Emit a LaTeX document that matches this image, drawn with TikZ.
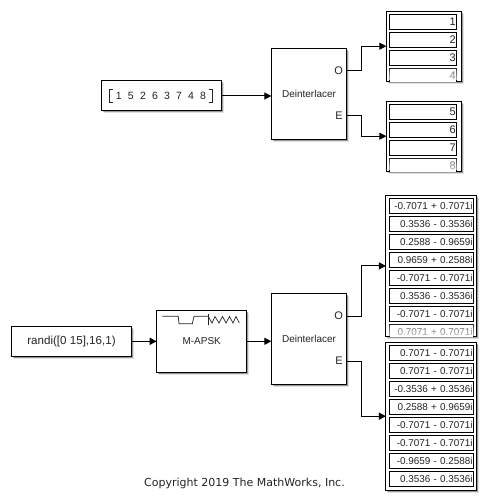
\documentclass[tikz,border=0pt]{standalone}
\usepackage{fontspec}
\setmainfont{Liberation Sans}
\newfontfamily\copyfont{DejaVu Sans}
\usetikzlibrary{arrows.meta, shadows}
\definecolor{textGray}{RGB}{35, 35, 35}

\begin{document}
\begin{tikzpicture}[x=1pt, y=-1pt,
    block/.style={draw=black, fill=white, line width=1pt, outer sep=0pt, inner sep=0pt, text=textGray,
      font=\fontsize{10}{12}\selectfont,
      drop shadow={shadow xshift=2.5pt, shadow yshift=-2.5pt, fill=black, opacity=.12},
      drop shadow={shadow xshift=1.5pt, shadow yshift=-1.5pt, fill=black, opacity=.3}},
    cell/.style={draw=black, fill=white, line width=1pt, outer sep=0pt, inner sep=1pt, anchor=north west,
      minimum height=15pt, text=textGray, align=right},
    cellA/.style={cell, minimum width=67.4pt, text width=65.4pt, font=\fontsize{11}{12}\selectfont},
    cellB/.style={cell, minimum width=84.4pt, text width=82.4pt, font=\fontsize{9.9}{11}\selectfont},
    port/.style={inner sep=0pt, anchor=east, text=textGray, font=\fontsize{11}{12}\selectfont},
    wire/.style={line width=1pt, -{Triangle[length=7pt, width=7pt]}}]
  \useasboundingbox (0,0) rectangle (487,502);
  % Upper row
  \node[block, minimum width=120.4pt, minimum height=30pt] (constA) at (161.5,96) {};
  \node[inner sep=0pt, text=textGray, font=\fontsize{10.5}{12}\selectfont] (vecA) at (161,96) {\spaceskip=6.2pt\relax 1 5 2 6 3 7 4 8};
  \node[block, minimum width=75.4pt, minimum height=90.7pt] (deinA) at (309,93.7) {Deinterlacer};
  \node[port] (portOA) at (343,71) {O};
  \node[port] (portEA) at (343,116) {E};
  \node[block, minimum width=74.7pt, minimum height=69.7pt] (dispA) at (423.7,46.2) {};
  \node[block, minimum width=74.7pt, minimum height=69.7pt] (dispB) at (423.7,136.2) {};
  % Brackets
  \draw[line width=.8pt, textGray] (113,89.5) -- (109.5,89.5) -- (109.5,102.5) -- (113,102.5);
  \draw[line width=.8pt, textGray] (209,89.5) -- (212.5,89.5) -- (212.5,102.5) -- (209,102.5);
  % Lower row
  \node[block, minimum width=120.4pt, minimum height=30pt, font=\fontsize{11.6}{13}\selectfont] (randiC) at (71.5,341.3) {randi([0 15],16,1)};
  \node[block, minimum width=90pt, minimum height=62pt] (apsk) at (201.7,341.3) {M-APSK};
  \node[block, minimum width=75.4pt, minimum height=91.5pt] (deinB) at (309,338.8) {Deinterlacer};
  \node[port] (portOB) at (343,316) {O};
  \node[port] (portEB) at (343,361) {E};
  \node[block, minimum width=90.7pt, minimum height=141.7pt] (dispC) at (431.3,265.9) {};
  \node[block, minimum width=90.7pt, minimum height=147.7pt] (dispD) at (431.3,416.2) {};
  % Waveform
  \draw[line width=.7pt, textGray] (162.3,316.3) -- (178.3,316.3) -- (179,323.7) -- (192.3,323.7) -- (194,316.3) -- (208.3,316.3);
  \draw[line width=.9pt, textGray] (208.3,314.3) -- (208.3,325);
  \draw[line width=.7pt, textGray] (208.3,316.5) -- (212,323) -- (215,316.5) -- (219,323) -- (222.5,316.5) -- (226,323) -- (229.5,316.5) -- (233,323) -- (236,316.5) -- (239.3,323);
  % Cells
  \begin{scope}
    \clip (dispA.north west) rectangle (dispA.south east);
    \foreach \val [count=\i] in {1,2,3,4}
      \node[cellA] (cellA\i) at (389.3,{14.3+18*(\i-1)}) {\val};
  \end{scope}
  \begin{scope}
    \clip (dispB.north west) rectangle (dispB.south east);
    \foreach \val [count=\i] in {5,6,7,8}
      \node[cellA] (cellB\i) at (389.3,{104.3+18*(\i-1)}) {\val};
  \end{scope}
  \begin{scope}
    \clip (dispC.north west) rectangle (dispC.south east);
    \foreach \val [count=\i] in {-0.7071 + 0.7071i, 0.3536 - 0.3536i, 0.2588 - 0.9659i, 0.9659 + 0.2588i,
        -0.7071 - 0.7071i, 0.3536 - 0.3536i, -0.7071 - 0.7071i, 0.7071 + 0.7071i}
      \node[cellB] (cellC\i) at (389.3,{198.3+18*(\i-1)}) {\val};
  \end{scope}
  \foreach \val [count=\i] in {0.7071 - 0.7071i, 0.7071 - 0.7071i, -0.3536 + 0.3536i, 0.2588 + 0.9659i,
      -0.7071 - 0.7071i, -0.7071 - 0.7071i, -0.9659 - 0.2588i, 0.3536 - 0.3536i}
    \node[cellB] (cellD\i) at (389.3,{345.3+18*(\i-1)}) {\val};
  % Fade of cut cells
  \foreach \k in {0,...,12} {
    \fill[white, opacity=.08] (387,{67+\k}) rectangle (460.4,80.4);
    \fill[white, opacity=.08] (387,{157+\k}) rectangle (460.4,170.4);
    \fill[white, opacity=.08] (387,{323+\k}) rectangle (476,336);
  }
  % Connectors
  \draw[wire] (constA.east) -- (deinA.west |- constA.east);
  \draw[wire] (deinA.east |- portOA) -- ++(15,0) |- (dispA.west);
  \draw[wire] (deinA.east |- portEA) -- ++(15,0) |- (dispB.west);
  \draw[wire] (randiC.east) -- (apsk.west);
  \draw[wire] (apsk.east) -- (deinB.west |- apsk.east);
  \draw[wire] (deinB.east |- portOB) -- ++(15,0) |- (dispC.west);
  \draw[wire] (deinB.east |- portEB) -- ++(15,0) |- (dispD.west);
  % Copyright
  \node[inner sep=0pt, text=textGray, font=\copyfont\fontsize{11}{13}\selectfont] (copyright) at (244.5,483) {Copyright 2019 The MathWorks, Inc.};
\end{tikzpicture}
\end{document}
